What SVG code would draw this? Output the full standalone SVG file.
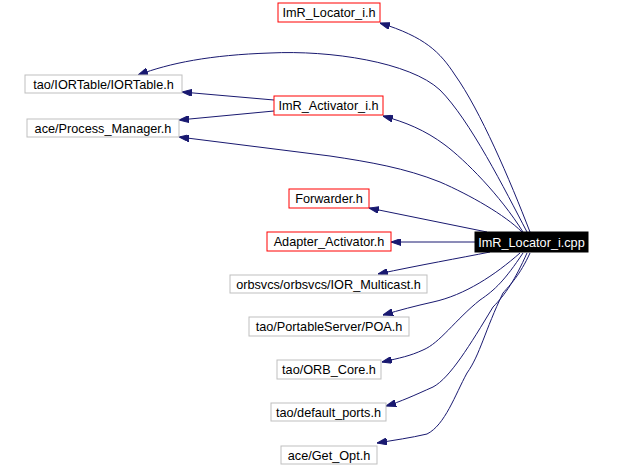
<svg xmlns="http://www.w3.org/2000/svg" width="617" height="467" viewBox="0 0 617 467">
<style>
  .n rect { stroke-width: 1; }
  .red rect { fill: #ffffff; stroke: #ff0000; }
  .grey rect { fill: #ffffff; stroke: #bfbfbf; }
  .main rect { fill: #000000; stroke: #000000; }
  text { font-family: "Liberation Sans", Arial, sans-serif; font-size: 12.7px; text-anchor: middle; fill: #000000; }
  .main text { fill: #ffffff; }
  .e path { fill: none; stroke: #191970; stroke-width: 1; marker-end: url(#arr); }
</style>
<defs>
  <marker id="arr" viewBox="0 0 10 7" refX="10" refY="3.5" markerWidth="10" markerHeight="7" markerUnits="userSpaceOnUse" orient="auto">
    <polygon points="0,0 10,3.5 0,7" fill="#191970" stroke="#191970"/>
  </marker>
</defs>
<rect width="617" height="467" fill="#ffffff"/>
<g id="edges" class="e">
  <path d="M530,232 C510,180 480,110 455,75 C440,52 425,37 380,23"/>
  <path d="M527,232 C505,190 470,120 440,90 C410,62 330,50 270,53 C210,55 170,63 138,75"/>
  <path d="M523,232 C500,195 465,160 445,145 C425,130 405,122 383,116"/>
  <path d="M522,232 C505,215 470,195 440,182 C405,168 370,162 330,156 L179,137"/>
  <path d="M274,100 L182,92"/>
  <path d="M274,111 L179,120"/>
  <path d="M487,232 L369,208"/>
  <path d="M475,242 L391,242"/>
  <path d="M490,252 C460,258 420,265 378,274"/>
  <path d="M520,253 C495,275 465,295 433,302 C415,306 400,310 383,315"/>
  <path d="M523,253 C505,280 495,290 480,300 C455,320 440,343 423,350 C410,356 400,358 382,362"/>
  <path d="M527,253 C515,280 505,295 493,307 C470,345 450,378 433,387 C415,395 400,402 386,406"/>
  <path d="M530,253 C520,275 510,285 503,293 C485,330 480,355 467,373 C455,395 445,425 427,434 C410,438 395,440 377,443"/>
</g>
<g id="node_locator_h" class="n red"><rect x="278" y="3" width="102" height="19"/><text x="329" y="17">ImR_Locator_i.h</text></g>
<g id="node_iortable" class="n grey"><rect x="25" y="75" width="157" height="18"/><text x="103.5" y="89">tao/IORTable/IORTable.h</text></g>
<g id="node_activator_h" class="n red"><rect x="274" y="96" width="109" height="19"/><text x="328.5" y="110">ImR_Activator_i.h</text></g>
<g id="node_process_manager" class="n grey"><rect x="27" y="119" width="152" height="18"/><text x="103" y="133">ace/Process_Manager.h</text></g>
<g id="node_forwarder" class="n red"><rect x="289" y="189" width="80" height="19"/><text x="329" y="203">Forwarder.h</text></g>
<g id="node_adapter" class="n red"><rect x="267" y="232" width="124" height="19"/><text x="329" y="246">Adapter_Activator.h</text></g>
<g id="node_cpp" class="n main"><rect x="475" y="232" width="113" height="20"/><text x="531.5" y="247">ImR_Locator_i.cpp</text></g>
<g id="node_multicast" class="n grey"><rect x="230" y="275" width="197" height="18"/><text x="328.5" y="289">orbsvcs/orbsvcs/IOR_Multicast.h</text></g>
<g id="node_poa" class="n grey"><rect x="249" y="317" width="160" height="19"/><text x="329" y="331">tao/PortableServer/POA.h</text></g>
<g id="node_orb_core" class="n grey"><rect x="277" y="360" width="104" height="19"/><text x="329" y="374">tao/ORB_Core.h</text></g>
<g id="node_default_ports" class="n grey"><rect x="271" y="403" width="115" height="18"/><text x="328.5" y="417">tao/default_ports.h</text></g>
<g id="node_get_opt" class="n grey"><rect x="281" y="446" width="96" height="18"/><text x="329" y="460">ace/Get_Opt.h</text></g>
</svg>
